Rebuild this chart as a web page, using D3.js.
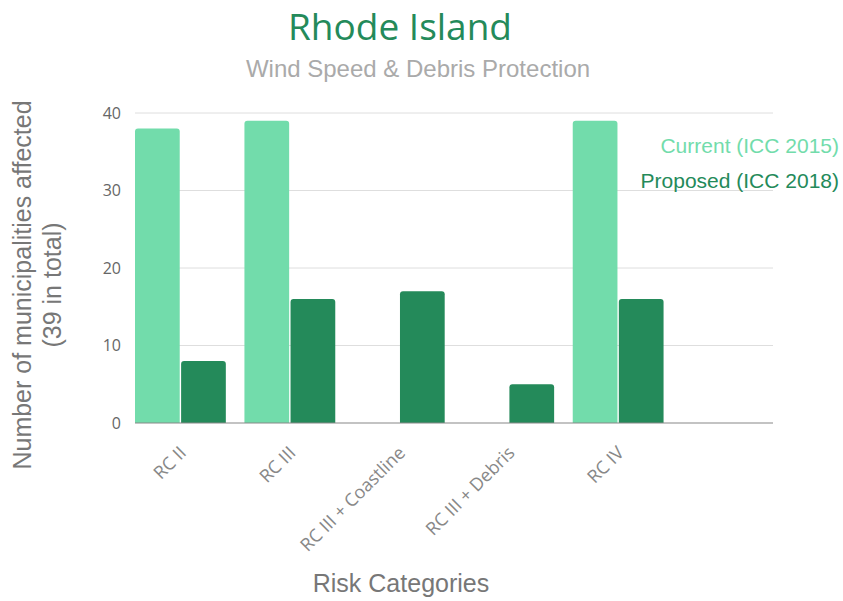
<!DOCTYPE html>
<html lang="en">
  <head>
    <meta charset="UTF-8" />
    <title>Rhode Island</title>
    <script src="https://d3js.org/d3.v7.min.js"></script>
    <style>
      body { margin: 0; background: #fff; }
    </style>
  </head>
  <body>
    <div id="chart"></div>
    <script>
      const categories = ["RC II", "RC III", "RC III + Coastline", "RC III + Debris", "RC IV"];
      const current = [38, 39, 0, 0, 39];
      const proposed = [8, 16, 17, 5, 16];
      const seriesNames = ["Current (ICC 2015)", "Proposed (ICC 2018)"];
      const yTicks = [0, 10, 20, 30, 40];

      const width = 843, height = 601;
      const margin = { left: 135, right: 70, top: 113, bottom: 178 };
      const colors = ["#72dcab", "#248a5a"];

      const svg = d3.select("#chart").append("svg")
        .attr("width", width)
        .attr("height", height);

      // google charts leaves one empty slot at the right
      const x = d3.scaleBand()
        .domain(categories.concat([""]))
        .range([margin.left, width - margin.right])
        .paddingInner(0.17)
        .paddingOuter(0);

      const x1 = d3.scaleBand()
        .domain([0, 1])
        .range([0, x.bandwidth()])
        .paddingInner(0.03);

      const y = d3.scaleLinear()
        .domain([0, 40])
        .range([height - margin.bottom, margin.top]);

      // grid
      svg.append("g")
        .selectAll("line")
        .data(yTicks.slice(1))
        .enter()
        .append("line")
        .attr("x1", margin.left)
        .attr("x2", width - margin.right)
        .attr("y1", d => y(d))
        .attr("y2", d => y(d))
        .style("stroke", "#dedede");

      // y tick labels
      const yAxis = svg.append("g")
        .attr("transform", `translate(${margin.left - 14},0)`)
        .call(d3.axisLeft(y).tickValues(yTicks).tickSize(0).tickPadding(0));
      yAxis.select(".domain").remove();
      yAxis.selectAll("text")
        .style("font-family", "'Open Sans'")
        .style("font-size", "16px")
        .style("fill", "#666");

      const data = categories.map((c, i) => ({ cat: c, vals: [current[i], proposed[i]] }));

      const groups = svg.append("g")
        .selectAll("g")
        .data(data)
        .enter()
        .append("g")
        .attr("transform", d => `translate(${x(d.cat)},0)`);

      groups.selectAll("path")
        .data(d => d.vals.map((v, k) => ({ v, k })).filter(e => e.v > 0))
        .enter()
        .append("path")
        .attr("d", e => {
          const x0 = x1(e.k), w = x1.bandwidth(), y0 = y(e.v), yb = y(0), r = 3;
          return `M${x0},${yb}V${y0 + r}Q${x0},${y0} ${x0 + r},${y0}H${x0 + w - r}Q${x0 + w},${y0} ${x0 + w},${y0 + r}V${yb}Z`;
        })
        .style("fill", e => colors[e.k]);

      // baseline
      svg.append("line")
        .attr("x1", margin.left)
        .attr("x2", width - margin.right)
        .attr("y1", y(0))
        .attr("y2", y(0))
        .style("stroke", "#888")
        .style("stroke-width", 1.2);

      // x labels
      svg.append("g")
        .selectAll("text")
        .data(categories)
        .enter()
        .append("text")
        .attr("transform", d => `translate(${x(d) + x.bandwidth() / 2 + 7},${y(0) + 31}) rotate(-45)`)
        .attr("text-anchor", "end")
        .style("font-family", "'Open Sans'")
        .style("font-size", "18px")
        .style("fill", "#888")
        .text(d => d);

      // legend
      svg.append("g")
        .selectAll("text")
        .data(seriesNames)
        .enter()
        .append("text")
        .attr("x", 839)
        .attr("y", (d, i) => 153 + i * 35)
        .attr("text-anchor", "end")
        .style("font-family", "'Liberation Sans'")
        .style("font-size", "21px")
        .style("fill", (d, i) => colors[i])
        .text(d => d);

      // titles
      svg.append("text")
        .attr("x", 400)
        .attr("y", 40)
        .attr("text-anchor", "middle")
        .style("font-family", "'Open Sans'")
        .style("font-size", "37px")
        .style("fill", "#248a5a")
        .text("Rhode Island");

      svg.append("text")
        .attr("x", 418)
        .attr("y", 77)
        .attr("text-anchor", "middle")
        .style("font-family", "'Liberation Sans'")
        .style("font-size", "24px")
        .style("fill", "#aaa")
        .text("Wind Speed & Debris Protection");

      svg.append("text")
        .attr("x", 401)
        .attr("y", 592)
        .attr("text-anchor", "middle")
        .style("font-family", "'Liberation Sans'")
        .style("font-size", "25px")
        .style("fill", "#777")
        .text("Risk Categories");

      const yt = svg.append("text")
        .attr("transform", "translate(31,285) rotate(-90)")
        .attr("text-anchor", "middle")
        .style("font-family", "'Liberation Sans'")
        .style("font-size", "25px")
        .style("fill", "#777");
      yt.append("tspan").attr("x", 0).attr("y", 0).text("Number of municipalities affected");
      yt.append("tspan").attr("x", 0).attr("y", 30).text("(39 in total)");
    </script>
  </body>
</html>
